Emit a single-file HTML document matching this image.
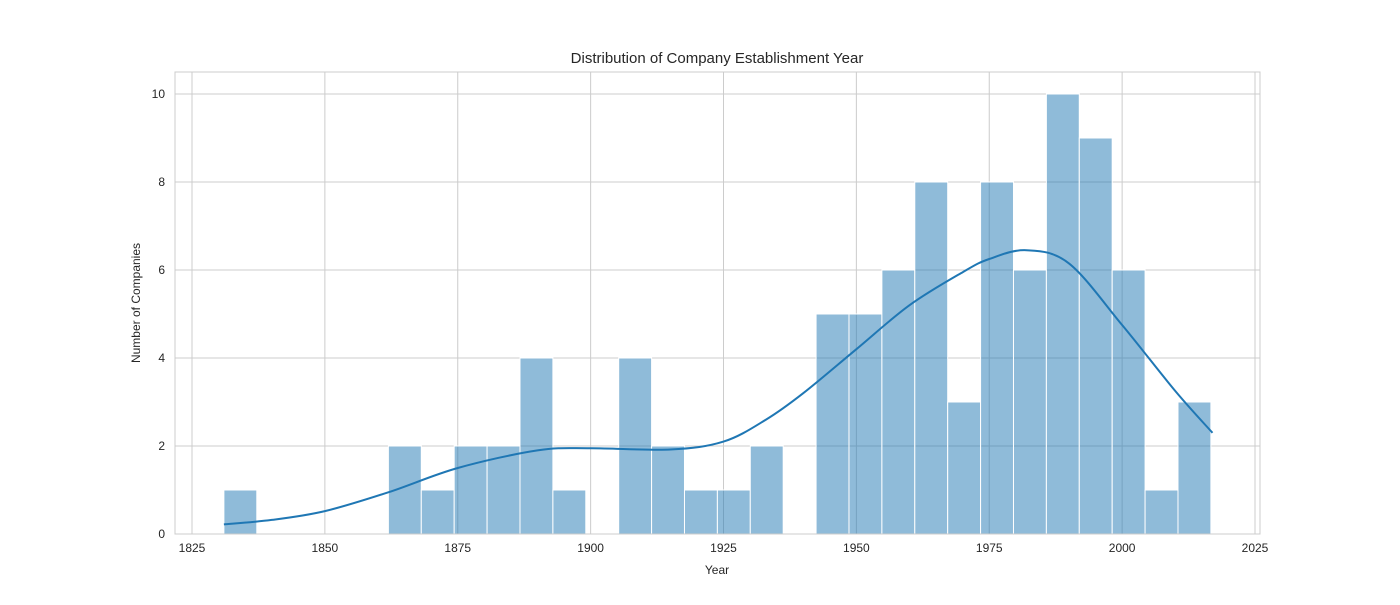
<!DOCTYPE html>
<html>
<head>
<meta charset="utf-8">
<style>
  html,body{margin:0;padding:0;background:#fff;}
  svg text{font-family:"Liberation Sans","DejaVu Sans",sans-serif;fill:#262626;}
</style>
</head>
<body>
<svg id="chart" width="1400" height="600" viewBox="0 0 1400 600" xmlns="http://www.w3.org/2000/svg">
  <rect x="0" y="0" width="1400" height="600" fill="#fff"/>
  <g id="grid"></g>
  <g id="bars"></g>
  <path id="kde" fill="none" stroke="#1f77b4" stroke-width="2"/>
  <rect x="175" y="72" width="1085" height="462" fill="none" stroke="#cccccc" stroke-width="1"/>
  <g id="xticks"></g>
  <g id="yticks"></g>
  <text x="717" y="63" text-anchor="middle" font-size="15">Distribution of Company Establishment Year</text>
  <text x="717" y="574" text-anchor="middle" font-size="12">Year</text>
  <text x="140" y="303" text-anchor="middle" font-size="12" transform="rotate(-90 140 303)">Number of Companies</text>
</svg>
<script>
const binStart = 1831.0;
const binWidth = 6.19;
const counts = [1,0,0,0,0,2,1,2,2,4,1,0,4,2,1,1,2,0,5,5,6,8,3,8,6,10,9,6,1,3];
const xTicks = [1825,1850,1875,1900,1925,1950,1975,2000,2025];
const yTicks = [0,2,4,6,8,10];
const kdeYears = [1831,1840,1850,1862,1875,1890,1900,1915,1925,1933,1940,1950,1960,1970,1975,1982,1990,2000,2010,2017];
const kdeVals = [0.22,0.32,0.52,0.95,1.5,1.9,1.95,1.92,2.1,2.6,3.2,4.2,5.2,5.95,6.25,6.45,6.15,4.75,3.25,2.3];

const NS = "http://www.w3.org/2000/svg";
const L=175,R=1260,T=72,B=534;
function xs(v){return 192 + (v-1825)*(1255-192)/200;}
function ys(v){return 534 - v*44;}

const grid=document.getElementById('grid');
const xt=document.getElementById('xticks');
const yt=document.getElementById('yticks');
xTicks.forEach(t=>{
  const l=document.createElementNS(NS,'line');
  l.setAttribute('x1',xs(t));l.setAttribute('x2',xs(t));l.setAttribute('y1',T);l.setAttribute('y2',B);
  l.setAttribute('stroke','#cccccc');
  
  
  grid.appendChild(l);
  const tx=document.createElementNS(NS,'text');
  tx.setAttribute('x',xs(t));tx.setAttribute('y',B+18);tx.setAttribute('text-anchor','middle');tx.setAttribute('font-size','12');
  tx.textContent=t;
  
  
  xt.appendChild(tx);
});
yTicks.forEach(t=>{
  const l=document.createElementNS(NS,'line');
  l.setAttribute('x1',L);l.setAttribute('x2',R);l.setAttribute('y1',ys(t));l.setAttribute('y2',ys(t));
  l.setAttribute('stroke','#cccccc');
  
  
  grid.appendChild(l);
  const tx=document.createElementNS(NS,'text');
  tx.setAttribute('x',L-10);tx.setAttribute('y',ys(t)+4);tx.setAttribute('text-anchor','end');tx.setAttribute('font-size','12');
  tx.textContent=t;
  
  
  yt.appendChild(tx);
});

const bars=document.getElementById('bars');
counts.forEach((c,i)=>{
  if(c<=0) return;
  const x0=xs(binStart+i*binWidth), x1=xs(binStart+(i+1)*binWidth);
  const r=document.createElementNS(NS,'rect');
  r.setAttribute('x',x0);r.setAttribute('width',x1-x0);
  r.setAttribute('y',ys(c));r.setAttribute('height',ys(0)-ys(c));
  r.setAttribute('fill','rgba(31,119,180,0.5)');
  r.setAttribute('stroke','#ffffff');r.setAttribute('stroke-width','1');
  
  
  bars.appendChild(r);
});

const pts=kdeYears.map((y,i)=>[xs(y),ys(kdeVals[i])]);
let d='M'+pts[0][0]+','+pts[0][1];
for(let i=0;i<pts.length-1;i++){
  const p0=pts[Math.max(0,i-1)],p1=pts[i],p2=pts[i+1],p3=pts[Math.min(pts.length-1,i+2)];
  const c1=[p1[0]+(p2[0]-p0[0])/6,p1[1]+(p2[1]-p0[1])/6];
  const c2=[p2[0]-(p3[0]-p1[0])/6,p2[1]-(p3[1]-p1[1])/6];
  d+=' C'+c1[0]+','+c1[1]+' '+c2[0]+','+c2[1]+' '+p2[0]+','+p2[1];
}
document.getElementById('kde').setAttribute('d',d);
</script>
</body>
</html>
